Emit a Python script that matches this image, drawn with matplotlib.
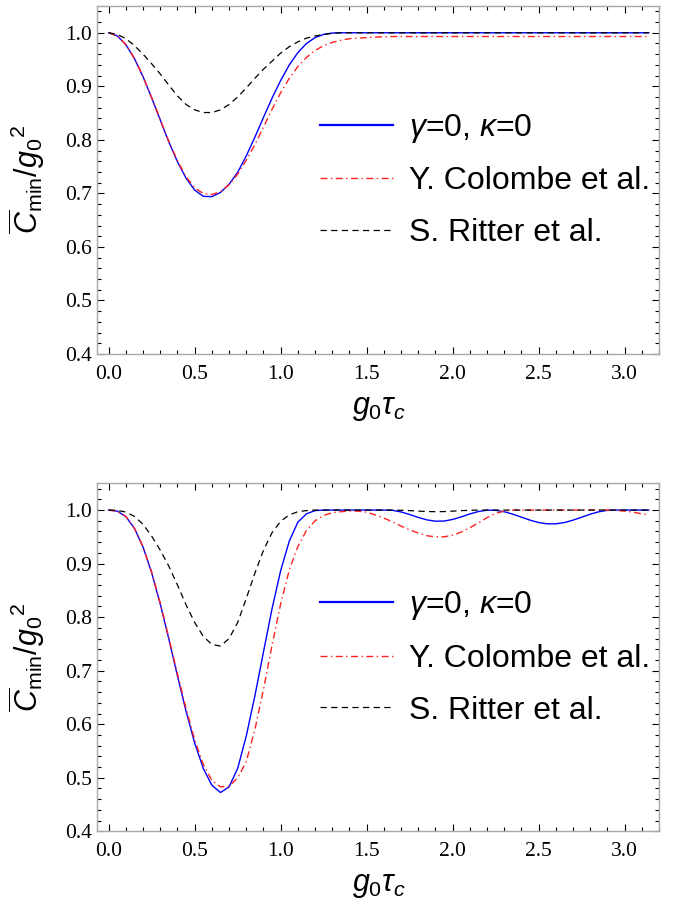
import matplotlib
matplotlib.use("Agg")
import matplotlib.pyplot as plt
from matplotlib.ticker import MultipleLocator

plt.rcParams['mathtext.fontset'] = 'custom'
plt.rcParams['mathtext.rm'] = 'Liberation Sans'
plt.rcParams['mathtext.it'] = 'Liberation Sans:italic'

# top panel
x_top = [0.0, 0.05, 0.1, 0.15, 0.2, 0.25, 0.3, 0.35, 0.4, 0.45, 0.5, 0.55, 0.6, 0.65,
         0.7, 0.75, 0.8, 0.85, 0.9, 0.95, 1.0, 1.05, 1.1, 1.15, 1.2, 1.25, 1.3, 1.35,
         1.4, 1.45, 1.5, 1.55, 1.6, 1.65, 3.14]
blue_top = [1.0, .9943, .9778, .9516, .9177, .8784, .8368, .7959, .7589, .7283, .7062, .6945,
            .6939, .7017, .7171, .7395, .770, .805, .842, .878, .911, .940, .963, .980, .991,
            .997, .9995, 1.0, 1.0, 1.0, 1.0, 1.0, 1.0, 1.0, 1.0]
red_top = [1.0, .9943, .978, .952, .918, .879, .838, .797, .761, .731, .710, .700, .698, .703,
           .716, .736, .762, .791, .824, .857, .888, .915, .937, .954, .967, .976, .982, .986,
           .989, .990, .991, .992, .9925, .993, .993]
black_top = [1.0, .997, .989, .976, .960, .942, .923, .902, .882, .866, .856, .851, .851, .856,
             .866, .880, .897, .915, .932, .947, .962, .974, .983, .990, .994, .997, .999, 1.0,
             1.0, 1.0, 1.0, 1.0, 1.0, 1.0, 1.0]

# bottom panel
x_bot = [0.0, 0.05, 0.1, 0.15, 0.2, 0.25, 0.3, 0.35, 0.4, 0.45, 0.5, 0.55, 0.6, 0.65, 0.7,
         0.75, 0.8, 0.85, 0.9, 0.95, 1.0, 1.05, 1.1, 1.15, 1.2, 1.25, 1.3, 1.35, 1.4, 1.45,
         1.5, 1.55, 1.6, 1.65, 1.7, 1.75, 1.8, 1.85, 1.9, 1.95, 2.0, 2.05, 2.1, 2.15, 2.2,
         2.25, 2.3, 2.35, 2.4, 2.45, 2.5, 2.55, 2.6, 2.65, 2.7, 2.75, 2.8, 2.85, 2.9, 2.95,
         3.0, 3.05, 3.1, 3.14]
blue_bot = [1.0, .998, .9877, .9657, .9306, .8829, .8243, .7587, .6900, .6240, .5648, .5175,
            .4859, .4724, .483, .5175, .578, .653, .735, .816, .887, .942, .9775, .993, .999,
            1.0, 1.0, 1.0, 1.0, 1.0, 1.0, 1.0, 1.0, .9995, .9965, .9917, .9862, .9817, .9792,
            .9795, .9825, .9873, .9928, .9973, .9998, .9995, .9969, .9923, .9867, .9812, .9767,
            .9743, .9743, .9767, .9812, .9867, .9923, .9969, .9995, 1.0, 1.0, 1.0, 1.0, 1.0]
red_bot = [1.0, .998, .988, .966, .931, .884, .826, .761, .694, .629, .571, .525, .495, .483,
           .484, .50, .53, .59, .665, .748, .825, .888, .932, .962, .980, .990, .995, .997,
           .998, .998, .996, .991, .985, .978, .970, .963, .957, .952, .950, .950, .953, .959,
           .967, .976, .986, .994, .998, 1.0, 1.0, 1.0, 1.0, 1.0, 1.0, 1.0, 1.0, 1.0, 1.0,
           1.0, 1.0, .9995, .998, .996, .993, .991]
black_bot = [1.0, .9995, .9963, .9881, .9733, .9513, .925, .895, .860, .823, .790, .764, .749,
             .746, .760, .790, .835, .882, .925, .958, .979, .991, .997, .999, 1.0, 1.0, 1.0,
             1.0, 1.0, 1.0, 1.0, 1.0, 1.0, 1.0, .9995, .999, .998, .9973, .997, .9972, .998,
             .999, .9995, 1.0, 1.0, 1.0, 1.0, 1.0, 1.0, 1.0, 1.0, 1.0, 1.0, 1.0, 1.0, 1.0, 1.0,
             1.0, 1.0, 1.0, 1.0, 1.0, 1.0, 1.0]

labels = [r'$\gamma$=0, $\kappa$=0', 'Y. Colombe et al.', 'S. Ritter et al.']

fig = plt.figure(figsize=(6.74, 9.10), dpi=100)
ax1 = fig.add_axes([0.1444, 0.611, 0.834, 0.3824])
ax2 = fig.add_axes([0.1444, 0.0865, 0.834, 0.3824])

for ax, xs, b, r, k in [(ax1, x_top, blue_top, red_top, black_top),
                        (ax2, x_bot, blue_bot, red_bot, black_bot)]:
    ax.plot(xs, b, color='#0000ff', lw=1.0, label=labels[0])
    ax.plot(xs, r, color='#ff2020', lw=1.0, dashes=(5, 2.5, 1, 2.5), label=labels[1])
    ax.plot(xs, k, color='black', lw=0.9, dashes=(5, 3.5), label=labels[2])

    ax.set_xlim(-0.066, 3.202)
    ax.set_ylim(0.4, 1.05)
    ax.xaxis.set_major_locator(MultipleLocator(0.5))
    ax.xaxis.set_minor_locator(MultipleLocator(0.1))
    ax.yaxis.set_major_locator(MultipleLocator(0.1))
    ax.yaxis.set_minor_locator(MultipleLocator(0.02))
    ax.tick_params(which='both', direction='in', top=True, right=True, width=0.8, color='black')
    ax.tick_params(which='major', length=5)
    ax.tick_params(which='minor', length=2.8)
    ax.tick_params(axis='x', which='major', pad=8)
    ax.tick_params(axis='y', which='major', pad=4)
    for lab in ax.get_xticklabels() + ax.get_yticklabels():
        lab.set_fontfamily('Liberation Serif')
        lab.set_fontsize(15.5)
    for s in ax.spines.values():
        s.set_color('#a8a8a8')
        s.set_linewidth(1.0)

    ax.set_xlabel(r'$g_0\tau_c$', fontsize=22)
    ax.xaxis.set_label_coords(0.5, -0.115)
    ax.set_ylabel(r'$\overline{C}_{\rm min}/g_0{}^2$', fontsize=22)
    ax.yaxis.set_label_coords(-0.09, 0.5)

    leg = ax.legend(loc='center left', bbox_to_anchor=(0.396, 0.5), frameon=False,
                    prop={'family': 'Liberation Sans', 'size': 23},
                    handlelength=2.3, handletextpad=0.5, labelspacing=0.68,
                    borderpad=0, borderaxespad=0)
    leg.get_lines()[0].set_linewidth(1.6)

fig.savefig('out.png', dpi=100)
